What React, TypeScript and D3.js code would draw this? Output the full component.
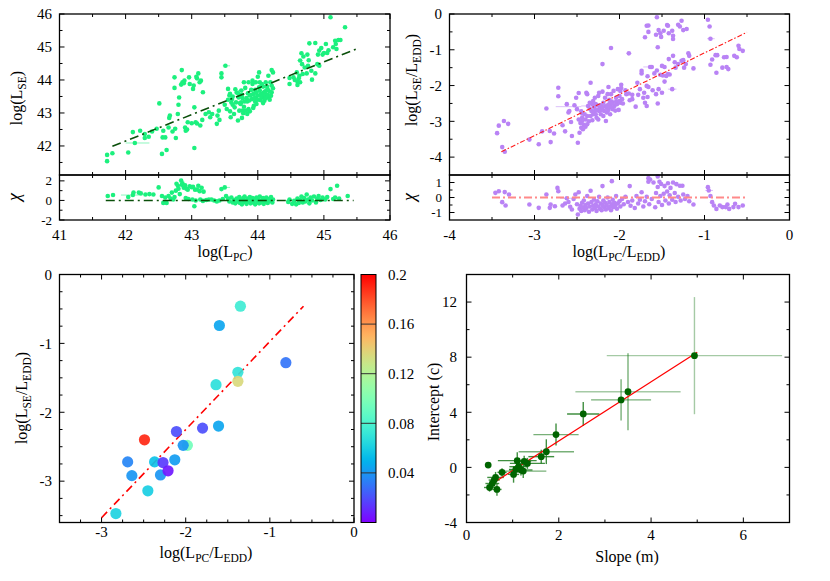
import React from 'react';
import * as d3 from 'd3';

// ---------- DATA ----------
// Panel 1: log(L_PC) vs log(L_SE)
const lpcLse: [number, number][] = [
  [41.72,41.73],[41.72,41.54],[41.80,41.78],[42.04,41.80],[42.11,42.42],[42.14,42.09],[42.22,42.46],[42.29,42.36],[42.29,42.24],[42.35,42.28],
  [42.40,42.44],[42.47,42.52],[42.51,43.29],[42.55,41.76],[42.56,42.26],[42.60,42.26],[42.57,42.46],[42.62,41.88],[42.65,42.56],[42.66,42.85],
  [42.67,42.92],[42.71,42.44],[42.75,42.52],[42.76,42.24],[42.74,43.76],[42.74,44.08],[42.79,42.97],[42.80,43.25],[42.81,43.47],[42.84,43.86],
  [42.85,44.30],[42.86,43.93],[42.88,43.90],[42.89,43.98],[42.90,42.56],[42.91,42.46],[42.93,42.50],[42.94,42.72],[42.96,44.08],[42.97,43.88],
  [43.00,42.69],[43.02,43.73],[43.03,43.83],[43.04,41.94],[43.04,43.17],[43.06,42.72],[43.08,42.68],[43.07,44.10],[43.08,44.05],[43.10,44.20],
  [43.12,43.93],[43.14,43.98],[43.17,43.63],[43.13,42.62],[43.16,42.79],[43.21,42.97],[43.26,43.02],[43.28,42.87],[43.31,42.97],[43.38,42.67],
  [43.39,42.92],[43.41,43.07],[43.42,42.79],[43.45,44.08],[43.45,44.20],[43.51,44.43],[43.53,43.12],[43.55,43.73],[43.57,43.53],[43.58,43.58],
  [43.59,42.87],[43.60,43.32],[43.61,43.42],[43.62,43.50],[43.64,42.97],[43.65,43.17],[43.67,43.32],[43.70,42.77],[43.71,43.47],[43.72,43.07],
  [43.75,43.68],[43.74,43.27],[43.76,42.85],[43.77,43.45],[43.73,43.53],[43.75,43.32],[43.77,43.07],[43.78,42.99],[43.81,43.76],[43.79,43.93],
  [43.84,43.35],[43.84,42.97],[43.86,43.93],[43.88,43.53],[43.91,43.42],[43.92,43.88],[43.93,43.15],[43.94,43.58],[43.96,43.70],[43.97,43.93],
  [43.97,43.47],[43.98,43.27],[44.00,43.53],[44.00,44.10],[44.02,44.23],[44.03,43.68],[44.04,43.39],[44.05,43.58],[44.07,43.47],[44.08,43.80],
  [44.09,43.62],[44.10,43.37],[44.12,43.93],[44.13,43.68],[44.14,43.80],[44.16,44.13],[44.17,43.47],[44.18,43.65],[44.19,43.93],[44.21,44.30],
  [44.21,43.83],[44.21,43.63],[44.23,44.23],[44.03,43.93],[43.92,43.98],[43.94,43.22],[43.86,43.12],[43.88,43.05],[43.82,43.07],[43.79,43.19],
  [43.73,43.30],[43.85,43.60],[43.90,43.70],[43.95,43.45],[44.00,43.40],[44.05,43.50],[44.10,43.55],[44.12,43.45],[44.15,43.55],[44.18,43.40],
  [43.98,43.62],[44.02,43.78],[44.06,43.88],[43.83,43.45],[43.87,43.38],[44.15,43.72],[44.20,43.52],[44.23,43.75],[43.68,43.62],[43.62,43.25],
  [43.55,43.40],[43.50,43.25],[43.66,43.72],[43.70,43.60],[44.08,43.30],[44.11,43.65],[43.96,43.35],[43.90,43.55],[43.80,43.35],[43.76,43.55],
  [43.58,43.05],[44.48,43.88],[44.48,44.06],[44.54,44.08],[44.56,44.00],[44.59,44.23],[44.60,43.95],[44.60,43.85],[44.62,44.05],[44.63,44.13],
  [44.64,43.93],[44.64,44.59],[44.66,44.81],[44.67,44.48],[44.68,44.18],[44.69,44.71],[44.71,44.38],[44.74,44.20],[44.75,44.77],[44.76,44.43],
  [44.77,44.60],[44.78,45.11],[44.81,44.28],[44.82,44.01],[44.87,45.12],[44.87,44.20],[44.90,44.48],[44.91,44.77],[44.93,44.89],[44.93,44.43],
  [44.96,44.97],[44.98,44.77],[45.00,44.82],[45.03,45.09],[45.05,44.82],[45.07,44.90],[45.10,45.90],[45.14,44.99],[45.17,45.19],[45.18,45.09],
  [45.19,44.94],[45.22,45.21],[45.25,45.21],[45.32,45.60],
];
// x error bars [x, y, xlo, xhi]
const lpcLseErr: [number, number, number, number][] = [
  [42.14,42.09,42.0,42.36],[43.51,44.43,43.47,43.58],[43.75,43.68,43.70,43.80],[44.64,44.59,44.60,44.68],
];
const lpcChi: [number, number][] = [
  [41.73,0.46],[41.81,0.56],[42.04,0.35],[42.11,0.55],[42.12,0.81],[42.20,0.80],[42.23,0.72],[42.30,0.60],[42.36,0.65],[42.42,0.60],
  [42.50,1.33],[42.55,0.45],[42.57,-0.25],[42.60,0.30],[42.62,-0.25],[42.65,0.45],[42.68,0.20],[42.70,0.80],[42.72,0.10],[42.74,0.35],
  [42.76,1.00],[42.77,1.70],[42.79,1.50],[42.80,1.20],[42.82,0.65],[42.84,2.03],[42.85,1.60],[42.86,1.75],[42.88,1.30],[42.90,1.55],
  [42.91,0.25],[42.92,1.20],[42.94,1.10],[42.95,0.15],[42.97,1.45],[43.00,1.35],[43.01,0.10],[43.02,1.40],[43.04,-0.60],[43.05,1.10],
  [43.06,0.00],[43.08,1.12],[43.10,1.50],[43.12,0.95],[43.13,0.10],[43.15,1.30],[43.17,-0.05],[43.18,0.90],[43.22,0.05],[43.26,0.10],
  [43.30,0.10],[43.34,0.00],[43.38,-0.10],[43.42,0.00],[43.45,1.16],[43.47,0.15],[43.50,1.33],[43.52,0.45],[43.55,0.20],[43.57,-0.10],
  [43.60,0.30],[43.62,-0.20],[43.64,0.05],[43.66,-0.30],[43.68,0.20],[43.70,-0.10],[43.72,0.35],[43.73,-0.25],[43.75,0.10],[43.76,-0.40],
  [43.78,0.25],[43.79,-0.15],[43.80,0.40],[43.82,0.00],[43.83,-0.35],[43.85,0.20],[43.86,-0.10],[43.88,0.35],[43.89,-0.30],[43.90,0.05],
  [43.92,0.25],[43.93,-0.20],[43.95,0.15],[43.96,-0.40],[43.98,0.30],[43.99,-0.05],[44.00,0.20],[44.02,-0.30],[44.03,0.40],[44.05,0.00],
  [44.06,-0.20],[44.08,0.25],[44.09,-0.35],[44.10,0.10],[44.12,-0.10],[44.13,0.30],[44.15,-0.25],[44.17,0.15],[44.18,-0.05],[44.20,0.35],
  [44.22,-0.20],[44.23,0.10],[44.46,-0.15],[44.48,0.10],[44.52,-0.35],[44.55,-0.05],[44.58,-0.40],[44.60,0.20],[44.62,-0.25],[44.64,0.05],
  [44.66,0.40],[44.68,-0.20],[44.70,0.25],[44.72,-0.10],[44.74,0.60],[44.76,0.10],[44.78,-0.30],[44.80,0.30],[44.82,0.00],[44.85,0.40],
  [44.88,-0.20],[44.90,0.20],[44.92,0.45],[44.95,0.05],[44.98,0.30],[45.02,0.10],[45.05,0.35],[45.10,1.16],[45.14,0.15],[45.17,0.30],
  [45.20,1.50],[45.23,0.20],[45.36,0.46],
];
const lpcChiErr: [number, number, number, number][] = [[42.11,0.55,41.93,42.21],[43.50,1.33,43.46,43.58]];
const lpcFitX = [41.8, 45.49];
const lpcFitY = [41.99, 44.94];
const lpcChiLineX = [41.7, 45.45];

// Panel 2: log(L_PC/L_EDD) vs log(L_SE/L_EDD)
const eddPts: [number, number][] = [
  [-3.44,-3.33],[-3.42,-3.12],[-3.36,-2.99],[-3.31,-3.07],[-3.38,-3.72],[-3.35,-3.85],[-3.06,-3.51],[-2.95,-3.64],[-2.91,-3.28],[-2.86,-2.64],
  [-2.82,-3.27],[-2.81,-3.58],[-2.77,-3.34],[-2.72,-2.06],[-2.72,-2.30],[-2.67,-3.11],[-2.64,-3.28],[-2.62,-2.52],[-2.60,-2.75],[-2.59,-2.71],
  [-2.57,-3.02],[-2.56,-3.41],[-2.53,-2.55],[-2.51,-2.34],[-2.50,-2.66],[-2.49,-3.60],[-2.48,-2.21],[-2.47,-3.32],[-2.45,-3.18],[-2.44,-2.90],
  [-2.44,-2.99],[-2.43,-3.22],[-2.41,-2.80],[-2.39,-2.20],[-2.38,-2.24],[-2.38,-3.08],[-2.37,-2.57],[-2.35,-2.48],[-2.34,-1.92],[-2.33,-2.71],
  [-2.32,-2.97],[-2.31,-2.80],[-2.31,-2.43],[-2.29,-2.34],[-2.29,-2.71],[-2.28,-2.52],[-2.27,-2.90],[-2.25,-2.29],[-2.24,-2.20],[-2.24,-2.71],
  [-2.23,-2.62],[-2.22,-2.80],[-2.20,-1.40],[-2.20,-2.17],[-2.19,-2.48],[-2.18,-2.71],[-2.17,-2.34],[-2.16,-2.99],[-2.15,-2.62],[-2.14,-2.24],
  [-2.13,-2.04],[-2.12,-2.52],[-2.11,-2.80],[-2.10,-0.95],[-2.10,-2.24],[-2.09,-2.45],[-2.08,-2.66],[-2.07,-2.15],[-2.06,-2.57],[-2.04,-2.34],
  [-2.03,-2.52],[-2.02,-2.10],[-2.48,-2.95],[-2.46,-3.05],[-2.45,-2.72],[-2.42,-3.10],[-2.40,-2.95],[-2.38,-2.85],[-2.36,-3.00],[-2.35,-2.65],
  [-2.34,-2.85],[-2.30,-2.60],[-2.28,-2.80],[-2.26,-2.55],[-2.25,-2.95],[-2.22,-2.55],[-2.21,-2.68],[-2.19,-2.85],[-2.17,-2.58],[-2.15,-2.75],
  [-2.13,-2.68],[-2.12,-2.40],[-2.10,-2.60],[-2.08,-2.50],[-2.05,-2.70],[-2.04,-2.45],[-2.40,-3.15],[-2.44,-2.78],[-2.32,-2.52],[-2.27,-2.68],
  [-2.20,-2.62],[-2.14,-2.55],[-2.01,-2.68],[-1.98,-1.98],[-1.98,-2.07],[-1.99,-2.15],[-2.00,-2.29],[-2.00,-2.43],[-1.99,-2.48],[-1.97,-2.38],
  [-1.96,-2.50],[-1.93,-2.13],[-1.92,-2.24],[-1.89,-1.10],[-1.89,-2.22],[-1.88,-2.41],[-1.85,-2.26],[-1.85,-2.38],[-1.81,-2.59],[-1.79,-1.92],
  [-1.78,-2.26],[-1.76,-2.10],[-1.74,-1.59],[-1.74,-1.66],[-1.72,-2.34],[-1.71,-2.20],[-1.70,-2.48],[-1.68,-2.01],[-1.68,-2.57],[-1.67,-2.32],
  [-1.66,-2.04],[-1.67,-1.74],[-1.64,-1.48],[-1.62,-1.48],[-1.61,-2.13],[-1.59,-1.66],[-1.57,-2.24],[-1.56,-1.58],[-1.55,-2.50],[-1.54,-2.10],
  [-1.52,-1.70],[-1.50,-1.45],[-1.50,-2.20],[-1.49,-1.72],[-1.47,-1.48],[-1.47,-1.89],[-1.45,-1.73],[-1.43,-1.68],[-1.42,-1.26],[-1.41,-1.69],
  [-1.38,-2.10],[-1.37,-1.17],[-1.35,-1.35],[-1.34,-1.50],[-1.31,-1.40],[-1.27,-1.31],[-1.25,-1.29],[-1.24,-1.50],[-1.22,-1.40],[-1.19,-1.10],
  [-1.18,-1.17],[-1.13,-1.52],[-1.66,-0.32],[-1.66,-0.50],[-1.70,-0.65],[-1.68,-0.33],[-1.57,-0.58],[-1.56,-0.09],[-1.54,-0.45],[-1.52,-0.54],
  [-1.51,-0.64],[-1.48,-0.47],[-1.55,-0.93],[-1.44,-0.31],[-1.43,-0.33],[-1.42,-0.54],[-1.38,-0.47],[-1.37,-0.61],[-1.37,-0.70],[-1.31,-0.30],
  [-1.29,-0.35],[-1.27,-0.19],[-1.25,-0.45],[-1.21,-0.42],[-0.96,-0.16],[-0.94,-0.35],[-0.93,-0.69],[-0.93,-1.42],[-0.91,-1.27],[-0.87,-1.15],
  [-0.86,-1.64],[-0.85,-1.15],[-0.79,-1.50],[-0.77,-1.21],[-0.74,-1.20],[-0.74,-1.48],[-0.72,-1.54],[-0.65,-1.17],[-0.62,-1.21],[-0.60,-0.89],
  [-0.59,-0.98],[-0.55,-1.03],
];
const eddErr: [number, number, number, number][] = [
  [-2.58,-2.59,-2.75,-2.45],[-0.93,-0.69,-0.97,-0.88],[-1.38,-2.10,-1.43,-1.33],[-2.37,-2.57,-2.45,-2.30],[-1.65,-1.48,-1.72,-1.60],[-1.89,-1.10,-1.92,-1.86],
];
const eddChi: [number, number][] = [
  [-3.46,0.31],[-3.42,0.42],[-3.35,0.36],[-3.30,0.20],[-3.38,-0.31],[-3.34,-0.53],[-3.06,-0.47],[-2.95,-0.69],[-2.86,0.20],[-2.82,-0.69],
  [-2.81,-0.47],[-2.76,-0.58],[-2.73,0.64],[-2.72,0.42],[-2.67,-0.53],[-2.64,-0.40],[-2.62,-0.05],[-2.60,-0.30],[-2.58,-0.62],[-2.56,-0.80],
  [-2.54,-0.10],[-2.52,0.20],[-2.50,-0.45],[-2.49,-1.13],[-2.48,0.35],[-2.47,-0.75],[-2.46,-0.55],[-2.45,-0.90],[-2.44,-0.35],[-2.43,-0.65],
  [-2.42,-0.20],[-2.41,-0.85],[-2.40,-0.50],[-2.39,-0.70],[-2.38,0.10],[-2.37,-0.40],[-2.36,-0.95],[-2.35,-0.60],[-2.34,0.45],[-2.33,-0.30],
  [-2.32,-0.80],[-2.31,-0.55],[-2.30,-0.15],[-2.29,-0.70],[-2.28,-0.45],[-2.27,-0.90],[-2.26,-0.25],[-2.25,-0.60],[-2.24,0.05],[-2.23,-0.75],
  [-2.22,-0.40],[-2.21,-0.85],[-2.20,0.76],[-2.20,-0.55],[-2.19,-0.20],[-2.18,-0.65],[-2.17,-0.35],[-2.16,-0.80],[-2.15,-0.50],[-2.14,0.00],
  [-2.13,-0.70],[-2.12,-0.30],[-2.11,-0.60],[-2.10,-0.85],[-2.09,1.09],[-2.09,-0.45],[-2.08,-0.15],[-2.07,-0.65],[-2.06,-0.35],[-2.05,-0.55],
  [-2.04,0.10],[-2.03,-0.75],[-2.02,-0.40],[-2.00,-0.25],[-1.99,-0.60],[-1.97,-0.10],[-1.95,-0.45],[-1.93,0.05],[-1.90,-0.30],[-1.88,0.76],
  [-1.87,-0.55],[-1.85,-0.20],[-1.82,-0.70],[-1.80,0.10],[-1.78,-0.40],[-1.76,-0.15],[-1.74,0.35],[-1.72,-0.60],[-1.70,-0.25],[-1.68,0.05],
  [-1.66,1.29],[-1.66,1.05],[-1.65,-0.45],[-1.64,1.20],[-1.62,-0.10],[-1.60,1.00],[-1.58,-0.65],[-1.57,0.30],[-1.55,1.40],[-1.55,0.70],
  [-1.54,-0.30],[-1.53,1.05],[-1.52,0.10],[-1.51,0.90],[-1.50,-0.50],[-1.48,0.25],[-1.47,0.76],[-1.46,-0.20],[-1.44,0.40],[-1.43,0.95],
  [-1.42,-0.40],[-1.41,0.15],[-1.40,0.64],[-1.38,-0.15],[-1.37,1.00],[-1.35,0.30],[-1.34,-0.30],[-1.33,0.89],[-1.31,0.05],[-1.29,0.78],
  [-1.28,-0.20],[-1.26,0.78],[-1.25,0.20],[-1.23,-0.10],[-1.20,0.10],[-1.18,-0.25],[-1.13,-0.47],[-0.96,0.69],[-0.95,0.47],[-0.93,0.10],
  [-0.91,-0.31],[-0.89,-0.53],[-0.86,-0.76],[-0.82,-0.53],[-0.79,-0.64],[-0.75,-0.64],[-0.73,-0.47],[-0.71,-0.76],[-0.66,-0.64],[-0.64,-0.42],
  [-0.60,-0.64],[-0.55,-0.53],
];
const eddChiErr: [number, number, number, number][] = [[-0.95,0.47,-0.99,-0.90],[-2.58,-0.05,-2.70,-2.50]];
const eddFitX = [-3.39, -0.5];
const eddFitY = [-3.85, -0.51];
const eddChiLineX = [-3.5, -0.5];

// Panel 3: colour-coded sample
const ratioX = [-2.83,-2.49,-2.69,-2.64,-2.45,-2.37,-2.27,-2.30,-2.21,-2.11,-2.13,-1.98,-2.03,-1.80,-1.61,-1.64,-1.60,-1.38,-1.38,-1.35,-0.81];
const ratioY = [-3.47,-2.40,-2.72,-2.92,-3.14,-2.72,-2.73,-2.91,-2.85,-2.28,-2.69,-2.48,-2.48,-2.23,-2.20,-1.60,-0.74,-1.42,-1.55,-0.46,-1.28];
const ratioZ = [0.062,0.19,0.035,0.04,0.06,0.055,0.015,0.04,0.006,0.02,0.042,0.095,0.04,0.02,0.045,0.068,0.045,0.07,0.135,0.075,0.03];
const ratioFitX = [-3.0, -0.6];
const ratioFitY = [-3.53, -0.46];
const cbTicks = [0.04, 0.08, 0.12, 0.16, 0.2];
const cbLabels = ['0.04', '0.08', '0.12', '0.16', '0.2'];

// Panel 4: slope vs intercept
const slopes = [0.47,0.50,0.56,0.60,0.63,0.66,0.77,1.02,1.07,1.10,1.13,1.18,1.23,1.25,1.32,1.62,1.73,1.94,2.53,3.35,3.50,4.94];
const intercepts = [0.17,-1.46,-1.17,-0.92,-0.73,-1.60,-0.36,-0.51,-0.15,0.49,0.05,-0.19,-0.27,0.44,0.29,0.78,1.14,2.38,3.88,4.90,5.49,8.11];
const slopeErr = [0.05,0.12,0.15,0.12,0.18,0.10,0.10,0.12,0.15,0.42,0.20,0.25,0.50,0.15,0.38,0.28,0.60,0.49,0.35,0.65,1.14,1.90];
const interceptErr = [0.10,0.30,0.35,0.30,0.40,0.45,0.30,0.60,0.30,0.60,0.40,0.40,0.50,0.40,0.40,0.50,0.90,0.80,0.87,1.50,2.80,4.25];
const smFitX = [0.45, 5.0];
const smFitY = [-1.41, 8.35];

// ---------- HELPERS ----------
const FONT = "'Liberation Serif', 'Times New Roman', Times, serif";
const range = (a: number, b: number, s: number) => d3.range(a, b + s / 2, s).map(v => +v.toFixed(4));

function rainbow(t: number) {
  const c = (v: number) => Math.round(Math.max(0, Math.min(1, v)) * 255);
  const r = Math.abs(2 * t - 0.5);
  const g = Math.sin(Math.PI * t);
  const b = Math.cos((Math.PI * t) / 2);
  return `rgb(${c(r)},${c(g)},${c(b)})`;
}

type Sc = d3.ScaleLinear<number, number>;

function Frame({ xs, ys, xMajor, xMinor, yMajor, yMinor }: { xs: Sc; ys: Sc; xMajor: number[]; xMinor: number[]; yMajor: number[]; yMinor: number[] }) {
  const [x0, x1] = xs.range();
  const [y1, y0] = ys.range();
  const M = 5, m = 3;
  const lines: React.ReactElement[] = [];
  const addX = (v: number, L: number, k: string) => {
    const p = xs(v);
    lines.push(<line key={'xb' + k} x1={p} x2={p} y1={y1} y2={y1 - L} />);
    lines.push(<line key={'xt' + k} x1={p} x2={p} y1={y0} y2={y0 + L} />);
  };
  const addY = (v: number, L: number, k: string) => {
    const p = ys(v);
    lines.push(<line key={'yl' + k} x1={x0} x2={x0 + L} y1={p} y2={p} />);
    lines.push(<line key={'yr' + k} x1={x1} x2={x1 - L} y1={p} y2={p} />);
  };
  xMajor.forEach((v, i) => addX(v, M, 'M' + i));
  xMinor.forEach((v, i) => addX(v, m, 'm' + i));
  yMajor.forEach((v, i) => addY(v, M, 'M' + i));
  yMinor.forEach((v, i) => addY(v, m, 'm' + i));
  return (
    <g stroke="#000" strokeWidth={1}>
      {lines}
      <rect x={x0} y={y0} width={x1 - x0} height={y1 - y0} fill="none" strokeWidth={1.3} />
    </g>
  );
}

function XLabels({ xs, vals, y, fmt }: { xs: Sc; vals: number[]; y: number; fmt?: (v: number) => string }) {
  return (
    <g style={{ fontFamily: FONT }} fontSize={15} textAnchor="middle" fill="#000">
      {vals.map((v, i) => (
        <text key={i} x={xs(v)} y={y}>{fmt ? fmt(v) : String(v)}</text>
      ))}
    </g>
  );
}
function YLabels({ ys, vals, x, fmt, size = 15 }: { ys: Sc; vals: number[]; x: number; fmt?: (v: number) => string; size?: number }) {
  return (
    <g style={{ fontFamily: FONT }} fontSize={size} textAnchor="end" fill="#000">
      {vals.map((v, i) => (
        <text key={i} x={x} y={ys(v)} dy="0.35em">{fmt ? fmt(v) : String(v)}</text>
      ))}
    </g>
  );
}

type Part = [string, boolean];
function SubText({ parts, x, y, rotate, size = 16, italic }: { parts: Part[]; x: number; y: number; rotate?: boolean; size?: number; italic?: boolean }) {
  let cur = 0;
  const spans = parts.map(([t, sub], i) => {
    const target = sub ? 4 : 0;
    const dy = target - cur;
    cur = target;
    return (
      <tspan key={i} dy={dy} fontSize={sub ? size * 0.72 : size}>{t}</tspan>
    );
  });
  return (
    <text transform={`translate(${x},${y})${rotate ? ' rotate(-90)' : ''}`} textAnchor="middle" style={{ fontFamily: FONT, fontStyle: italic ? 'italic' : 'normal' }} fill="#000">
      {spans}
    </text>
  );
}

const fmtMinus = (v: number) => (v < 0 ? '-' + String(-v) : String(v));

// ---------- APP ----------
export default function App() {
  // Panel 1
  const p1x = d3.scaleLinear().domain([41, 46]).range([59.5, 390]);
  const p1y = d3.scaleLinear().domain([41.12, 46]).range([175, 14]);
  const p1r = d3.scaleLinear().domain([-2, 2.6]).range([220, 175]);
  // Panel 2
  const p2x = d3.scaleLinear().domain([-4, 0]).range([449.5, 789.5]);
  const p2y = d3.scaleLinear().domain([-4.5, 0]).range([175, 14]);
  const p2r = d3.scaleLinear().domain([-1.5, 1.5]).range([220, 175]);
  // Panel 3
  const p3x = d3.scaleLinear().domain([-3.5, 0]).range([59.5, 354]);
  const p3y = d3.scaleLinear().domain([-3.6, 0]).range([522.5, 274.5]);
  const cbY = d3.scaleLinear().domain([0, 0.2]).range([522.5, 274.5]);
  // Panel 4
  const p4x = d3.scaleLinear().domain([0, 7]).range([466.5, 789.5]);
  const p4y = d3.scaleLinear().domain([-4, 14]).range([522.5, 274.5]);

  const green1 = '#1cf07e';
  const purple2 = '#b983f5';
  const lineGen = (xs: Sc, ys: Sc, X: number[], Y: number[]) =>
    d3.line<number>().x((_, i) => xs(X[i])).y((_, i) => ys(Y[i]))(X) || '';

  const gradStops = d3.range(0, 1.0001, 0.02);
  const errOpacity = (len: number) => (len < 40 ? 0.85 : len < 90 ? 0.6 : 0.4);
  const R = 2.3;

  return (
    <svg width={830} height={581} style={{ position: 'absolute', left: 0, top: 0, background: '#fff', fontFamily: FONT }}>
      <defs>
        <linearGradient id="cbGrad" x1="0" y1="1" x2="0" y2="0">
          {gradStops.map((t, i) => (
            <stop key={i} offset={t} stopColor={rainbow(t)} />
          ))}
        </linearGradient>
      </defs>
      <rect x={0} y={0} width={830} height={581} fill="#fff" />

      {/* ===== Panel 1 ===== */}
      <g>
        {lpcLseErr.map((e, i) => (
          <line key={i} x1={p1x(e[2])} x2={p1x(e[3])} y1={p1y(e[1])} y2={p1y(e[1])} stroke={green1} strokeOpacity={0.5} strokeWidth={1} />
        ))}
        {lpcLse.map((d, i) => (
          <circle key={i} cx={p1x(d[0])} cy={p1y(d[1])} r={R} fill={green1} />
        ))}
        <path d={lineGen(p1x, p1y, lpcFitX, lpcFitY)} stroke="#0a4f0a" strokeWidth={1.6} strokeDasharray="9,4,2,4" fill="none" />
        {lpcChiErr.map((e, i) => (
          <line key={i} x1={p1x(e[2])} x2={p1x(e[3])} y1={p1r(e[1])} y2={p1r(e[1])} stroke={green1} strokeOpacity={0.5} strokeWidth={1} />
        ))}
        {lpcChi.map((d, i) => (
          <circle key={i} cx={p1x(d[0])} cy={p1r(d[1])} r={R} fill={green1} />
        ))}
        <path d={lineGen(p1x, p1r, lpcChiLineX, [0, 0])} stroke="#0a4f0a" strokeWidth={1.6} strokeDasharray="9,4,2,4" fill="none" />
        <Frame xs={p1x} ys={p1y} xMajor={range(41, 46, 1)} xMinor={range(41.5, 45.5, 1)} yMajor={range(42, 46, 1)} yMinor={range(41.5, 45.5, 1)} />
        <Frame xs={p1x} ys={p1r} xMajor={range(41, 46, 1)} xMinor={range(41.5, 45.5, 1)} yMajor={[-2, 0, 2]} yMinor={[-1, 1]} />
        <YLabels ys={p1y} vals={range(42, 46, 1)} x={52} />
        <YLabels ys={p1r} vals={[-2, 0, 2]} x={52} fmt={fmtMinus} size={13} />
        <XLabels xs={p1x} vals={range(41, 46, 1)} y={240} />
        <SubText parts={[['log(L', false], ['SE', true], [')', false]]} x={22} y={98} rotate />
        <SubText parts={[['χ', false]]} x={20} y={197} rotate size={18} italic />
        <SubText parts={[['log(L', false], ['PC', true], [')', false]]} x={225} y={257} />
      </g>

      {/* ===== Panel 2 ===== */}
      <g>
        {eddErr.map((e, i) => (
          <line key={i} x1={p2x(e[2])} x2={p2x(e[3])} y1={p2y(e[1])} y2={p2y(e[1])} stroke={purple2} strokeOpacity={0.5} strokeWidth={1} />
        ))}
        {eddPts.map((d, i) => (
          <circle key={i} cx={p2x(d[0])} cy={p2y(d[1])} r={R} fill={purple2} />
        ))}
        <path d={lineGen(p2x, p2y, eddFitX, eddFitY)} stroke="#ff1a1a" strokeWidth={1.1} strokeDasharray="5,2,1.5,2" fill="none" />
        {eddChiErr.map((e, i) => (
          <line key={i} x1={p2x(e[2])} x2={p2x(e[3])} y1={p2r(e[1])} y2={p2r(e[1])} stroke={purple2} strokeOpacity={0.5} strokeWidth={1} />
        ))}
        {eddChi.map((d, i) => (
          <circle key={i} cx={p2x(d[0])} cy={p2r(d[1])} r={R} fill={purple2} />
        ))}
        <path d={lineGen(p2x, p2r, eddChiLineX, [0, 0])} stroke="#ff8a8a" strokeWidth={2} strokeDasharray="8,3,2,3" fill="none" />
        <Frame xs={p2x} ys={p2y} xMajor={range(-4, 0, 1)} xMinor={range(-3.5, -0.5, 1)} yMajor={range(-4, 0, 1)} yMinor={range(-3.5, -0.5, 1)} />
        <Frame xs={p2x} ys={p2r} xMajor={range(-4, 0, 1)} xMinor={range(-3.5, -0.5, 1)} yMajor={[-1, 0, 1]} yMinor={[-0.5, 0.5]} />
        <YLabels ys={p2y} vals={range(-4, 0, 1)} x={442} fmt={fmtMinus} />
        <YLabels ys={p2r} vals={[-1, 0, 1]} x={442} fmt={fmtMinus} size={13} />
        <XLabels xs={p2x} vals={range(-4, 0, 1)} y={240} fmt={fmtMinus} />
        <SubText parts={[['log(L', false], ['SE', true], ['/L', false], ['EDD', true], [')', false]]} x={417} y={80} rotate />
        <SubText parts={[['χ', false]]} x={415} y={197} rotate size={18} italic />
        <SubText parts={[['log(L', false], ['PC', true], ['/L', false], ['EDD', true], [')', false]]} x={619} y={257} />
      </g>

      {/* ===== Panel 3 ===== */}
      <g>
        <path d={lineGen(p3x, p3y, ratioFitX, ratioFitY)} stroke="#ff0000" strokeWidth={1.6} strokeDasharray="8,4,2,4" fill="none" />
        {ratioX.map((x, i) => (
          <circle key={i} cx={p3x(x)} cy={p3y(ratioY[i])} r={5.6} fill={rainbow(ratioZ[i] / 0.2)} fillOpacity={0.92} />
        ))}
        <Frame xs={p3x} ys={p3y} xMajor={range(-3, 0, 1)} xMinor={range(-3.25, -0.25, 0.25).filter(v => Math.abs(v - Math.round(v)) > 0.01)} yMajor={range(-3, 0, 1)} yMinor={range(-3.5, -0.25, 0.25).filter(v => Math.abs(v - Math.round(v)) > 0.01)} />
        <YLabels ys={p3y} vals={range(-3, 0, 1)} x={52} fmt={fmtMinus} />
        <XLabels xs={p3x} vals={range(-3, 0, 1)} y={537} fmt={fmtMinus} />
        <SubText parts={[['log(L', false], ['SE', true], ['/L', false], ['EDD', true], [')', false]]} x={27} y={398} rotate />
        <SubText parts={[['log(L', false], ['PC', true], ['/L', false], ['EDD', true], [')', false]]} x={206} y={558} />
        {/* colour bar */}
        <rect x={361} y={274.5} width={15} height={248} fill="url(#cbGrad)" />
        {cbTicks.map((v, i) => (
          <line key={i} x1={361} x2={376} y1={cbY(v)} y2={cbY(v)} stroke="#333" strokeWidth={1} />
        ))}
        <rect x={361} y={274.5} width={15} height={248} fill="none" stroke="#000" strokeWidth={1} />
        <g style={{ fontFamily: FONT }} fontSize={15} fill="#000">
          {cbTicks.map((v, i) => (
            <text key={i} x={388} y={cbY(v)} dy="0.35em">{cbLabels[i]}</text>
          ))}
        </g>
      </g>

      {/* ===== Panel 4 ===== */}
      <g>
        {slopes.map((s, i) => {
          const c = intercepts[i];
          const hx0 = p4x(s - slopeErr[i]), hx1 = p4x(s + slopeErr[i]);
          const vy0 = p4y(c + interceptErr[i]), vy1 = p4y(c - interceptErr[i]);
          return (
            <g key={i} stroke="#1e7b1e" strokeWidth={1.4}>
              <line x1={hx0} x2={hx1} y1={p4y(c)} y2={p4y(c)} strokeOpacity={errOpacity(hx1 - hx0)} />
              <line x1={p4x(s)} x2={p4x(s)} y1={vy0} y2={vy1} strokeOpacity={errOpacity(vy1 - vy0)} />
            </g>
          );
        })}
        <path d={lineGen(p4x, p4y, smFitX, smFitY)} stroke="#ff0000" strokeWidth={1.2} fill="none" />
        {slopes.map((s, i) => (
          <circle key={i} cx={p4x(s)} cy={p4y(intercepts[i])} r={3.4} fill="#006400" />
        ))}
        <Frame xs={p4x} ys={p4y} xMajor={range(0, 6, 2)} xMinor={range(1, 7, 2)} yMajor={range(-4, 12, 4)} yMinor={range(-2, 14, 4)} />
        <YLabels ys={p4y} vals={range(-4, 12, 4)} x={457} fmt={fmtMinus} />
        <XLabels xs={p4x} vals={range(0, 6, 2)} y={540} />
        <SubText parts={[['Intercept (c)', false]]} x={439} y={402} rotate />
        <SubText parts={[['Slope (m)', false]]} x={627} y={562} />
      </g>
    </svg>
  );
}
